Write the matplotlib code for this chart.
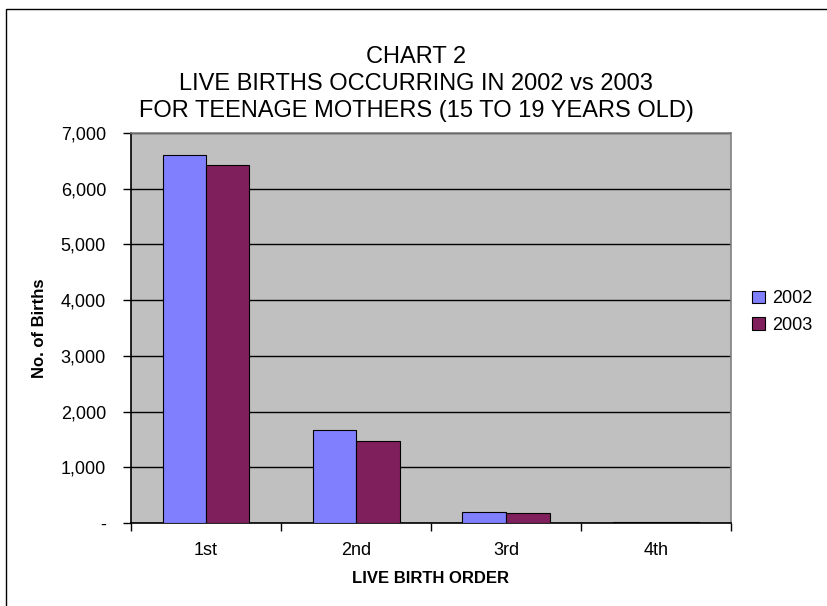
import numpy as np
import matplotlib
matplotlib.use("Agg")
from matplotlib import pyplot as plt
from matplotlib.patches import Rectangle
from matplotlib.ticker import FuncFormatter, FixedLocator

plt.rcParams['font.family'] = ['Liberation Sans', 'DejaVu Sans']

categories = ["1st", "2nd", "3rd", "4th"]
births_2002 = [6600, 1665, 200, 25]
births_2003 = [6430, 1465, 180, 22]
series_names = ["2002", "2003"]
title_lines = ["CHART 2",
               "LIVE BIRTHS OCCURRING IN 2002 vs 2003",
               "FOR TEENAGE MOTHERS (15 TO 19 YEARS OLD)"]

fig = plt.figure(figsize=(8.28, 6.06), dpi=100)
ax = fig.add_axes([131 / 828, 83 / 606, 600 / 828, 390 / 606])
ax.set_facecolor("#c0c0c0")

x = np.arange(len(categories))
w = 0.29
ax.bar(x - w / 2, births_2002, w, color="#8080ff", edgecolor="black", linewidth=0.8,
       label=series_names[0], zorder=3)
ax.bar(x + w / 2, births_2003, w, color="#7f1f5c", edgecolor="black", linewidth=0.8,
       label=series_names[1], zorder=3)

ax.set_xlim(-0.5, len(categories) - 0.5)
ax.set_ylim(0, 7000)
ax.set_yticks(np.arange(0, 7001, 1000))
ax.yaxis.set_major_formatter(FuncFormatter(lambda v, p: "-" if v == 0 else f"{int(v):,}"))
ax.grid(axis="y", color="black", linewidth=1, zorder=1)

ax.set_xticks(x)
ax.set_xticklabels(categories)
ax.tick_params(axis="x", which="major", length=0, pad=14, labelsize=13)
ax.xaxis.set_minor_locator(FixedLocator(np.arange(-0.5, len(categories), 1)))
ax.tick_params(axis="x", which="minor", length=6, width=1, direction="out")
ax.tick_params(axis="y", length=6, width=1, direction="out", labelsize=13, pad=12)

for s in ["top", "right"]:
    ax.spines[s].set_color("#808080")
    ax.spines[s].set_linewidth(1.2)
for s in ["left", "bottom"]:
    ax.spines[s].set_color("black")
    ax.spines[s].set_linewidth(1.2)

ax.set_ylabel("No. of Births", fontsize=12, fontweight="bold", labelpad=10)
ax.set_xlabel("LIVE BIRTH ORDER", fontsize=12, fontweight="bold", labelpad=8)

for i, line in enumerate(title_lines):
    fig.text(416 / 828, 1 - (57 + 27 * i) / 606, line, ha="center", va="center",
             fontsize=17, family=["Liberation Sans Narrow", "Liberation Sans"])

fig.legend(loc="center left", bbox_to_anchor=(745 / 828, 1 - 312 / 606), frameon=False,
           fontsize=13, handlelength=0.7, handleheight=0.7, handletextpad=0.4,
           labelspacing=0.5, borderaxespad=0)

fig.patches.append(Rectangle((6 / 828, -0.05), 1.0, 1 - 9 / 606 + 0.05, transform=fig.transFigure,
                             fill=False, edgecolor="black", linewidth=1))

fig.savefig("out.png", dpi=100)
